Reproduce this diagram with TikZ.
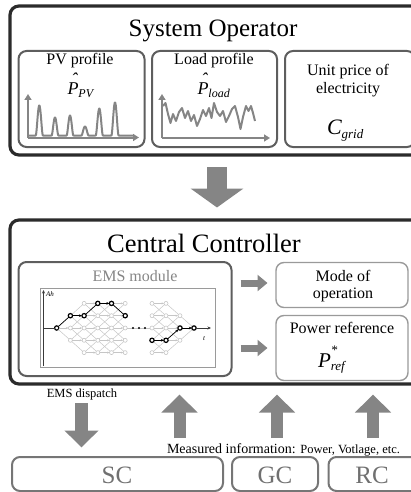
\documentclass[tikz,border=0pt]{standalone}
\usepackage{fontspec}
\setmainfont{Liberation Serif}
\usetikzlibrary{arrows.meta,calc}

\definecolor{framedark}{HTML}{2B2B2B}
\definecolor{panelgray}{HTML}{5E5E5E}
\definecolor{softgray}{HTML}{9A9A9A}
\definecolor{arrowgray}{HTML}{858585}
\definecolor{curvegray}{HTML}{858585}
\definecolor{meshgray}{HTML}{C6C6C6}
\definecolor{labelgray}{HTML}{707070}
\definecolor{axisdark}{HTML}{3A3A3A}

\newcommand\fs[1]{\fontsize{#1}{#1}\selectfont}
\newcommand\hatsym[1]{\ooalign{#1\cr\hidewidth\kern0.15em\raisebox{0.5em}{\char"02C6}\hidewidth\cr}}
\newcommand\lowsub[2]{\raisebox{-#1}{\fs{12}\itshape #2}}

\begin{document}
\begin{tikzpicture}[x=1pt,y=-1pt,
  every node/.style={inner sep=0pt, outer sep=0pt},
  outerframe/.style={draw=framedark, line width=3.2pt, rounded corners=9pt, anchor=north west},
  panel/.style={draw=panelgray, line width=2pt, rounded corners=8pt, anchor=north west},
  lightpanel/.style={draw=softgray, line width=1.4pt, rounded corners=8pt, anchor=north west},
  unitbox/.style={draw=panelgray!85, line width=2pt, rounded corners=8pt, anchor=north west},
  fatarrow/.style n args={3}{draw=arrowgray, line width=#1, -{Triangle[width=#2,length=#3]}},
  profileaxis/.style={draw=curvegray, line width=2pt, -{Triangle[width=7pt,length=6pt]}},
  curve/.style={draw=curvegray, line width=2pt, line join=round},
  meshnode/.style={circle, draw=meshgray, fill=white, line width=0.6pt, minimum size=4pt},
  boldnode/.style={circle, draw=black, fill=white, line width=1.2pt, minimum size=4.3pt},
  dotnode/.style={circle, fill=black, minimum size=2.4pt},
  meshedge/.style={draw=meshgray, line width=0.5pt},
  meshtip/.style={-{Stealth[length=2.4pt,width=2pt]}},
  boldedge/.style={draw=black, line width=0.7pt},
  boldtip/.style={-{Stealth[length=3pt,width=2.6pt]}},
  axisline/.style={draw=axisdark, line width=0.6pt},
  twoline/.style={align=center, font=\fontsize{16}{#1}\selectfont},
  declare function={bump(\x,\c,\w)=max(0,1-(\x-\c)*(\x-\c)/(\w*\w))*max(0,1-(\x-\c)*(\x-\c)/(\w*\w));}
]
\useasboundingbox (0,0) rectangle (411,492);
\clip (0,0) rectangle (411,492);

% ---------- System operator ----------
\node[outerframe, minimum width=425pt, minimum height=149pt] (so) at (10,6) {};
\node (sotitle) at (213,31) {\fs{25}System Operator};

\node[panel, minimum width=126pt, minimum height=96pt] (pvbox) at (18.5,51) {};
\node[panel, minimum width=125pt, minimum height=96pt] (loadbox) at (152,51) {};
\node[panel, minimum width=130pt, minimum height=96pt] (pricebox) at (285,51) {};

\node (pvtitle) at (80,61) {\fs{16}PV profile};
\node[anchor=base west] (pvsym) at (67.5,95) {\fs{18}\itshape\hatsym{P}\lowsub{3pt}{PV}};
\node (loadtitle) at (214,61) {\fs{16}Load profile};
\node[anchor=base west] (loadsym) at (197.5,95) {\fs{18}\itshape\hatsym{P}\lowsub{3pt}{load}};
\node[twoline=18pt] (pricetitle) at (348,81) {Unit price of\\electricity};
\node[anchor=base west] (pricesym) at (327,134) {\fs{22}\itshape C\lowsub{4pt}{\fs{13}grid}};

% PV profile plot
\coordinate (pvo) at (28,137.5);
\coordinate (pvy) at (28,94);
\coordinate (pvx) at (139,137.5);
\draw[profileaxis] (pvo) -- (pvy);
\draw[profileaxis] (pvo) -- (pvx);
\draw[curve] plot[domain=29:134, samples=300]
  (\x, {135.5 - 30*bump(\x,39.3,3.6) - 18*bump(\x,55,3.4) - 20*bump(\x,70,3.4)
        - 9*bump(\x,85,3.6) - 27*bump(\x,99.3,3.6) - 33*bump(\x,115,3.6)});

% Load profile plot
\coordinate (ldo) at (162,138);
\coordinate (ldy) at (162,94);
\coordinate (ldx) at (270,138);
\draw[profileaxis] (ldo) -- (ldy);
\draw[profileaxis] (ldo) -- (ldx);
\draw[curve] plot coordinates {(163,106) (165.5,103) (168,114) (170.5,123) (173,114) (176,121)
  (179,112) (182,108) (185,118) (188,111) (191,121) (194,115) (197,126) (200,119) (203,110)
  (206,116) (209,108) (211.5,118) (214,103) (217,112) (220,116) (223,111) (226,122) (229,116)
  (232,109) (235,106) (238,117) (240.5,129) (243,117) (246,106) (248.5,111) (251,106) (253,113) (255,121)};

% Operator -> controller
\coordinate (opout) at (217,167);
\coordinate (ccin) at (217,207.5);
\draw[fatarrow={20pt}{52pt}{19pt}] (opout) -- (ccin);

% ---------- Central controller ----------
\node[outerframe, minimum width=425pt, minimum height=164pt] (cc) at (10,220) {};
\node (cctitle) at (204,243) {\fs{26.5}Central Controller};

\node[panel, minimum width=213pt, minimum height=114pt] (ems) at (18.5,262) {};
\node (emstitle) at (135,276) {\color{arrowgray}\fs{16}EMS module};
\node[draw=softgray, line width=0.8pt, minimum width=175pt, minimum height=79pt, anchor=north west] (plotframe) at (40,288) {};

\node[lightpanel, minimum width=132pt, minimum height=45pt] (mode) at (276,262.5) {};
\node[twoline=16.5pt] (modetext) at (343,286) {Mode of\\operation};
\node[lightpanel, minimum width=132pt, minimum height=65pt] (pref) at (276,315.5) {};
\node (preftitle) at (342,328) {\fs{16}Power reference};
\node[anchor=base west] (prefsym) at (318,367) {\fs{21}\itshape P\rlap{\raisebox{12.5pt}{\fs{13}*}}\lowsub{3pt}{\fs{13}ref}};

% EMS -> outputs
\coordinate (emsA) at (240.5,283);
\coordinate (modein) at (267.5,283);
\coordinate (emsB) at (240.5,348);
\coordinate (prefin) at (267.5,348);
\draw[fatarrow={7pt}{16pt}{10pt}] (emsA) -- (modein);
\draw[fatarrow={7pt}{16pt}{10pt}] (emsB) -- (prefin);

% EMS state trellis: axes
\coordinate (vbot) at (43.5,366);
\coordinate (vtop) at (43.5,290);
\draw[axisline,-{Stealth[length=3.5pt,width=3pt]}] (vbot) -- (vtop);
\node[anchor=west] (ahlabel) at (46,294.5) {\fs{7}\itshape Ah};

% first block of the trellis
\node[boldnode] (s0) at (56.7,328) {};
\coordinate (hstart) at (43.5,328);
\draw[axisline] (hstart) -- (s0);
\foreach \k in {1,...,5}{
  \pgfmathtruncatemacro\rmax{min(\k,2)}
  \pgfmathtruncatemacro\rmin{-\rmax}
  \foreach \r in {\rmin,...,\rmax}{
    \pgfmathtruncatemacro\ri{\r+2}
    \node[meshnode] (a\k-\ri) at ({56.7+13.7*\k},{328-12.3*\r}) {};
  }
}
\foreach \ri in {1,2,3}{
  \ifnum\ri=2 \draw[meshedge,meshtip] (s0) -- (a1-\ri);
  \else \draw[meshedge] (s0) -- (a1-\ri); \fi
}
\foreach \k in {1,...,4}{
  \pgfmathtruncatemacro\kn{\k+1}
  \pgfmathtruncatemacro\rmax{min(\k,2)}
  \pgfmathtruncatemacro\rmin{-\rmax}
  \pgfmathtruncatemacro\rnmax{min(\kn,2)}
  \foreach \r in {\rmin,...,\rmax}{
    \foreach \d in {-1,0,1}{
      \pgfmathtruncatemacro\rn{\r+\d}
      \pgfmathtruncatemacro\ok{abs(\rn)<=\rnmax}
      \ifnum\ok=1
        \pgfmathtruncatemacro\ri{\r+2}
        \pgfmathtruncatemacro\rni{\rn+2}
        \ifnum\d=0 \draw[meshedge,meshtip] (a\k-\ri) -- (a\kn-\rni);
        \else \draw[meshedge] (a\k-\ri) -- (a\kn-\rni); \fi
      \fi
    }
  }
}

% second block of the trellis
\foreach \k/\xx/\rmax in {1/152/2, 2/166/2, 3/180/1, 4/194/0}{
  \pgfmathtruncatemacro\rmin{-\rmax}
  \foreach \r in {\rmin,...,\rmax}{
    \pgfmathtruncatemacro\ri{\r+2}
    \node[meshnode] (c\k-\ri) at (\xx,{328-12.3*\r}) {};
  }
}
\foreach \k/\kn/\rmax/\rnmax in {1/2/2/2, 2/3/2/1, 3/4/1/0}{
  \pgfmathtruncatemacro\rmin{-\rmax}
  \foreach \r in {\rmin,...,\rmax}{
    \foreach \d in {-1,0,1}{
      \pgfmathtruncatemacro\rn{\r+\d}
      \pgfmathtruncatemacro\ok{abs(\rn)<=\rnmax}
      \ifnum\ok=1
        \pgfmathtruncatemacro\ri{\r+2}
        \pgfmathtruncatemacro\rni{\rn+2}
        \ifnum\d=0 \draw[meshedge,meshtip] (c\k-\ri) -- (c\kn-\rni);
        \else \draw[meshedge] (c\k-\ri) -- (c\kn-\rni); \fi
      \fi
    }
  }
}

% gap between the blocks
\draw[meshedge] (a5-2) -- (c1-2);
\foreach \i/\xx in {1/133,2/139,3/145} \node[dotnode] (gap\i) at (\xx,328) {};

% chosen path
\node[boldnode] (b1) at (a1-3) {};
\node[boldnode] (b2) at (a2-3) {};
\node[boldnode] (b3) at (a3-4) {};
\node[boldnode] (b4) at (a4-4) {};
\node[boldnode] (b5) at (a5-3) {};
\draw[boldedge] (s0) -- (b1);
\draw[boldedge,boldtip] (b1) -- (b2);
\draw[boldedge] (b2) -- (b3);
\draw[boldedge,boldtip] (b3) -- (b4);
\draw[boldedge] (b4) -- (b5);

\node[boldnode] (d1) at (c1-1) {};
\node[boldnode] (d2) at (c2-1) {};
\node[boldnode] (d3) at (c3-2) {};
\node[boldnode] (d4) at (c4-2) {};
\draw[boldedge,boldtip] (d1) -- (d2);
\draw[boldedge,boldtip] (d2) -- (d3);
\draw[boldedge,boldtip] (d3) -- (d4);
\coordinate (tend) at (211,328);
\draw[axisline,-{Stealth[length=3.5pt,width=3pt]}] (d4) -- (tend);
\node (tlabel) at (204,339) {\fs{7}\itshape t};

% ---------- Field level ----------
\node (dispatch) at (82,394.5) {\fs{12.5}EMS dispatch};
\coordinate (dispA) at (81.5,403);
\coordinate (dispB) at (81.5,447.5);
\draw[fatarrow={13pt}{33pt}{17pt}] (dispA) -- (dispB);

\foreach \n/\xx in {1/179.5,2/277,3/373}{
  \coordinate (meas\n a) at (\xx,438);
  \coordinate (meas\n b) at (\xx,394.5);
  \draw[fatarrow={12pt}{35pt}{18pt}] (meas\n a) -- (meas\n b);
}
\node[anchor=base west] (measured) at (167,453)
  {\fs{14}Measured information: {\fs{12.5}Power, Votlage, etc.}};

\node[unitbox, minimum width=211pt, minimum height=34pt] (sc) at (12,457) {};
\node[unitbox, minimum width=86pt, minimum height=34pt] (gc) at (232,457) {};
\node[unitbox, minimum width=95pt, minimum height=34pt] (rc) at (328.5,457) {};
\node (sclabel) at (117,475) {\color{labelgray}\fs{25}SC};
\node (gclabel) at (275,475) {\color{labelgray}\fs{25}GC};
\node (rclabel) at (372,475) {\color{labelgray}\fs{25}RC};
\end{tikzpicture}
\end{document}
